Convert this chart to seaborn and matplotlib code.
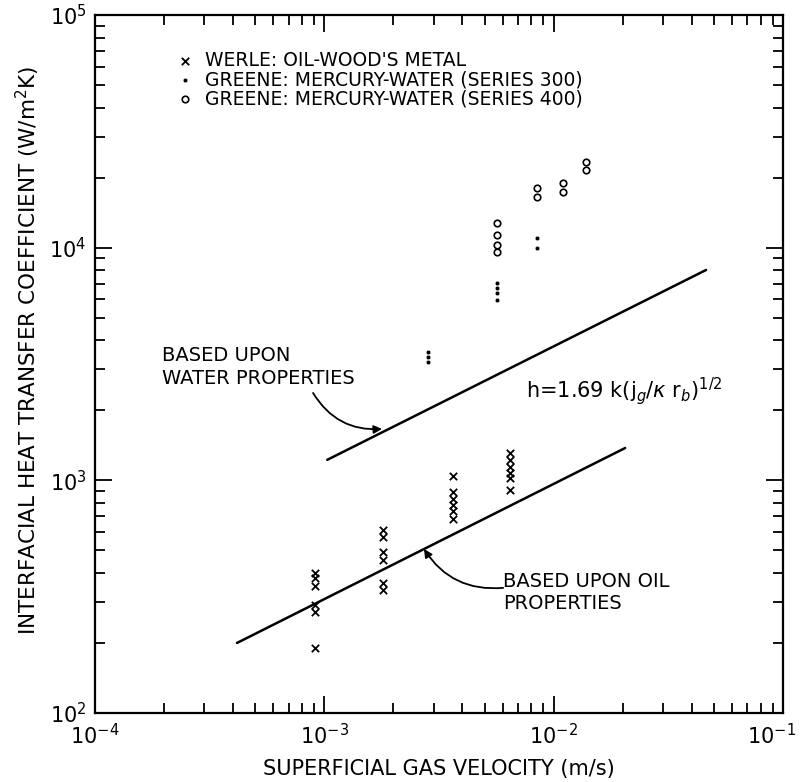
import numpy as np
import pandas as pd
import matplotlib
matplotlib.use("Agg")
import matplotlib.pyplot as plt
import matplotlib.transforms as mtrans
import seaborn as sns
from matplotlib.ticker import LogLocator

sns.set_theme(style="ticks")
plt.rcParams['font.family'] = ['DejaVu Sans']
plt.rcParams['mathtext.fontset'] = 'dejavusans'
plt.rcParams['text.color'] = 'black'
plt.rcParams['axes.labelcolor'] = 'black'
plt.rcParams['xtick.color'] = 'black'
plt.rcParams['ytick.color'] = 'black'

# Werle: oil - Wood's metal (x markers)
werle_x = [9.1e-4] * 6 + [1.8e-3] * 6 + [3.64e-3] * 6 + [6.46e-3] * 6
werle_h = [400, 381, 350, 292, 272, 191,
           613, 571, 492, 455, 362, 338,
           1040, 890, 835, 785, 735, 680,
           1313, 1225, 1142, 1077, 1020, 910]

# Greene: mercury-water, series 300
g300_x = [2.83e-3] * 3 + [5.66e-3] * 4 + [8.48e-3] * 2
g300_h = [3560, 3390, 3230, 7050, 6710, 6390, 5960, 11000, 9970]

# Greene: mercury-water, series 400
g400_x = [5.66e-3] * 4 + [8.48e-3] * 2 + [1.10e-2] * 2 + [1.38e-2] * 2
g400_h = [12770, 11340, 10270, 9600, 18080, 16520, 18970, 17340, 23330, 21560]

# correlation lines h = 1.69 k (jg / kappa rb)^1/2
water_x = [1.03e-3, 4.62e-2]
water_h = [1225, 8020]
oil_x = [4.16e-4, 2.05e-2]
oil_h = [200, 1377]

werle = pd.DataFrame({"jg": werle_x, "h": werle_h})
g300 = pd.DataFrame({"jg": g300_x, "h": g300_h})
g400 = pd.DataFrame({"jg": g400_x, "h": g400_h})
water = pd.DataFrame({"jg": water_x, "h": water_h})
oil = pd.DataFrame({"jg": oil_x, "h": oil_h})

fig = plt.figure(figsize=(8.03, 7.82), dpi=100)
ax = fig.add_axes([95 / 803, 69 / 782, 688 / 803, 698 / 782])

sns.lineplot(data=water, x="jg", y="h", color="black", lw=1.8, ax=ax)
sns.lineplot(data=oil, x="jg", y="h", color="black", lw=1.8, ax=ax)

sns.scatterplot(data=werle, x="jg", y="h", marker="x", color="black", s=28,
                linewidth=1.3, ax=ax, label="WERLE: OIL-WOOD'S METAL")
sns.scatterplot(data=g300, x="jg", y="h", marker="o", color="black", s=10,
                ax=ax, label="GREENE: MERCURY-WATER (SERIES 300)")
sns.scatterplot(data=g400, x="jg", y="h", marker="o", facecolor="white",
                edgecolor="black", s=22, linewidth=1.2, ax=ax,
                label="GREENE: MERCURY-WATER (SERIES 400)")

ax.set_xscale("log")
ax.set_yscale("log")
ax.set_xlim(1e-4, 1e-1)
ax.set_ylim(1e2, 1e5)

ax.set_xticks([1e-4, 1e-3, 1e-2, 1e-1])
ax.set_yticks([1e2, 1e3, 1e4, 1e5])
ax.xaxis.set_minor_locator(LogLocator(base=10, subs=np.arange(2, 10)))
ax.yaxis.set_minor_locator(LogLocator(base=10, subs=np.arange(2, 10)))
ax.tick_params(which="both", direction="in", top=True, right=True,
               color="black", width=1.3)
ax.tick_params(which="major", length=12, labelsize=15)
ax.tick_params(axis="x", which="major", pad=7)
ax.tick_params(axis="y", which="major", pad=6)
ax.tick_params(which="minor", length=7)
for s in ax.spines.values():
    s.set_linewidth(1.6)
    s.set_color("black")

# last x tick label sits a little inside the figure edge
shift = mtrans.ScaledTranslation(-8 / 72, 0, fig.dpi_scale_trans)
last = ax.xaxis.get_majorticklabels()[-1]
last.set_transform(last.get_transform() + shift)

ax.set_xlabel("SUPERFICIAL GAS VELOCITY (m/s)", fontsize=15, labelpad=8)
ax.set_ylabel("INTERFACIAL HEAT TRANSFER COEFFICIENT (W/m$^2$K)",
              fontsize=15.5)
ax.yaxis.set_label_coords(-0.077, 0.52)

leg = ax.legend(loc="upper left", bbox_to_anchor=(0.117, 0.948),
                frameon=False, fontsize=13.5, handletextpad=0.6,
                labelspacing=0.0, handlelength=1.0, borderaxespad=0,
                borderpad=0)

# water properties label and arrow
ax.text(1.96e-4, 3070, "BASED UPON\nWATER PROPERTIES", fontsize=14,
        ha="left", va="center", linespacing=1.25)
ax.annotate("", xy=(1.785e-3, 1663), xytext=(8.93e-4, 2374),
            arrowprops=dict(arrowstyle="-|>", color="black", lw=1.3,
                            connectionstyle="arc3,rad=0.3",
                            shrinkA=0, shrinkB=0))

# oil properties label and arrow
ax.text(6.02e-3, 328, "BASED UPON OIL\nPROPERTIES", fontsize=14,
        ha="left", va="center", linespacing=1.2)
ax.annotate("", xy=(2.72e-3, 507), xytext=(6.02e-3, 345),
            arrowprops=dict(arrowstyle="-|>", color="black", lw=1.3,
                            connectionstyle="arc3,rad=-0.3",
                            shrinkA=0, shrinkB=0))

ax.text(7.6e-3, 2420, r"h=1.69 k(j$_g$/$\kappa$ r$_b$)$^{1/2}$", fontsize=15,
        ha="left", va="center")

fig.savefig("out.png", dpi=100)
